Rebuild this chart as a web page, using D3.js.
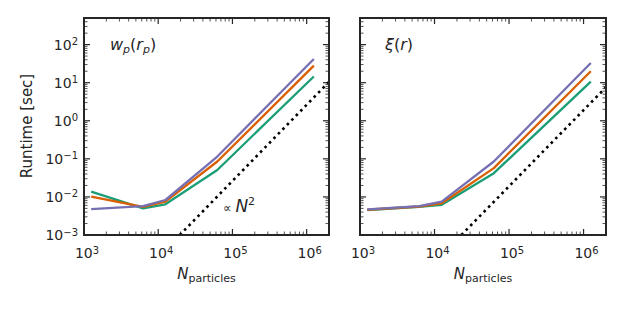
<!DOCTYPE html>
<html>
<head>
<meta charset="utf-8">
<script src="https://cdn.jsdelivr.net/npm/d3@7"></script>
<style>
  body { margin: 0; background: #fff; }
  svg { display: block; font-family: "DejaVu Sans", sans-serif; }
</style>
</head>
<body>
<div class="render"></div>
<script>
"use strict";

// number of particles (x) for every measured point
var nParticles = [1250, 6250, 12500, 62500, 1250000];

// w_p(r_p) runtimes [sec]
var wpGreen  = [0.0138, 0.0050, 0.0064, 0.051, 14.5];
var wpOrange = [0.0102, 0.0055, 0.0075, 0.085, 28];
var wpPurple = [0.0048, 0.0057, 0.0083, 0.115, 42];

// xi(r) runtimes [sec]
var xiGreen  = [0.0045, 0.0055, 0.0062, 0.042, 10.7];
var xiOrange = [0.0046, 0.0056, 0.0068, 0.057, 20];
var xiPurple = [0.0047, 0.0057, 0.0075, 0.085, 33];

// the dotted "proportional to N^2" guide, two end points each
var guideWp = [[19500, 0.001], [2000000, 10.5]];
var guideXi = [[22900, 0.001], [2000000, 7.6]];

var xTickLabels = [3, 4, 5, 6];
var yTickLabels = [-3, -2, -1, 0, 1, 2];

var colors = ["#1b9e77", "#d95f02", "#7570b3"];
var ink = "#262626";

var w = 623, h = 312;
var plotTop = 18, plotBottom = 235;
var panels = [
  { left: 84, right: 329, series: [wpGreen, wpOrange, wpPurple], guide: guideWp, yLabels: true },
  { left: 360, right: 606, series: [xiGreen, xiOrange, xiPurple], guide: guideXi, yLabels: false }
];

var svg = d3.select(".render").append("svg").attr("width", w).attr("height", h);

function minorTicks(lo, hi) {
  var out = [];
  for (var e = Math.floor(Math.log10(lo)); e <= Math.ceil(Math.log10(hi)); e++) {
    for (var k = 2; k <= 9; k++) {
      var v = k * Math.pow(10, e);
      if (v > lo && v < hi) out.push(v);
    }
  }
  return out;
}

function powerLabel(sel, exp) {
  sel.text("10");
  sel.append("tspan").attr("dy", "-0.45em").style("font-size", "10px")
    .text(exp < 0 ? "\u2212" + (-exp) : exp);
}

panels.forEach(function (p) {
  var x = d3.scaleLog().domain([1e3, 2e6]).range([p.left, p.right]);
  var y = d3.scaleLog().domain([1e-3, 500]).range([plotBottom, plotTop]);
  var g = svg.append("g");

  var xMajor = xTickLabels.map(function (e) { return Math.pow(10, e); });
  var yMajor = yTickLabels.map(function (e) { return Math.pow(10, e); });

  // inward ticks on all four sides
  [[plotTop, 1], [plotBottom, -1]].forEach(function (s) {
    g.selectAll(null).data(xMajor).enter().append("line")
      .attr("x1", function (d) { return x(d); }).attr("x2", function (d) { return x(d); })
      .attr("y1", s[0]).attr("y2", s[0] + s[1] * 6).attr("stroke", ink).attr("stroke-width", 1.2);
    g.selectAll(null).data(minorTicks(1e3, 2e6)).enter().append("line")
      .attr("x1", function (d) { return x(d); }).attr("x2", function (d) { return x(d); })
      .attr("y1", s[0]).attr("y2", s[0] + s[1] * 3.5).attr("stroke", ink).attr("stroke-width", 0.8);
  });
  [[p.left, 1], [p.right, -1]].forEach(function (s) {
    g.selectAll(null).data(yMajor).enter().append("line")
      .attr("y1", function (d) { return y(d); }).attr("y2", function (d) { return y(d); })
      .attr("x1", s[0]).attr("x2", s[0] + s[1] * 6).attr("stroke", ink).attr("stroke-width", 1.2);
    g.selectAll(null).data(minorTicks(1e-3, 500)).enter().append("line")
      .attr("y1", function (d) { return y(d); }).attr("y2", function (d) { return y(d); })
      .attr("x1", s[0]).attr("x2", s[0] + s[1] * 3.5).attr("stroke", ink).attr("stroke-width", 0.8);
  });

  // x tick labels
  g.selectAll(null).data(xTickLabels).enter().append("text")
    .attr("x", function (d) { return x(Math.pow(10, d)) + 3; }).attr("y", 258)
    .attr("text-anchor", "middle").attr("fill", ink).style("font-size", "14px")
    .each(function (d) { powerLabel(d3.select(this), d); });

  if (p.yLabels) {
    g.selectAll(null).data(yTickLabels).enter().append("text")
      .attr("x", 78).attr("y", function (d) { return y(Math.pow(10, d)) + 5; })
      .attr("text-anchor", "end").attr("fill", ink).style("font-size", "14px")
      .each(function (d) { powerLabel(d3.select(this), d); });
  }

  var line = d3.line()
    .x(function (d) { return x(d[0]); })
    .y(function (d) { return y(d[1]); });

  g.append("path").datum(p.guide).attr("d", line).attr("fill", "none")
    .attr("stroke", "#000").attr("stroke-width", 2.6).attr("stroke-dasharray", "2.6,3.8");

  p.series.forEach(function (s, i) {
    g.append("path").datum(nParticles.map(function (n, j) { return [n, s[j]]; }))
      .attr("d", line).attr("fill", "none").attr("stroke", colors[i])
      .attr("stroke-width", 2.3).attr("stroke-linejoin", "round");
  });

  g.append("rect").attr("x", p.left).attr("y", plotTop)
    .attr("width", p.right - p.left).attr("height", plotBottom - plotTop)
    .attr("fill", "none").attr("stroke", ink).attr("stroke-width", 2);

  // x axis label
  var xl = g.append("text").attr("x", (p.left + p.right) / 2).attr("y", 279)
    .attr("text-anchor", "middle").attr("fill", ink);
  xl.append("tspan").style("font-style", "italic").style("font-size", "15px").text("N");
  xl.append("tspan").attr("dy", "3").style("font-size", "11px").text("particles");
});

svg.append("text").attr("transform", "translate(32,126)rotate(-90)")
  .attr("text-anchor", "middle").attr("fill", ink).style("font-size", "15px")
  .text("Runtime [sec]");

// panel titles
var t1 = svg.append("text").attr("x", 110).attr("y", 50).attr("fill", ink).style("font-size", "16px");
t1.append("tspan").style("font-style", "italic").text("w");
t1.append("tspan").attr("dy", "3").style("font-style", "italic").style("font-size", "11px").text("p");
t1.append("tspan").attr("dy", "-3").text("(");
t1.append("tspan").style("font-style", "italic").text("r");
t1.append("tspan").attr("dy", "3").style("font-style", "italic").style("font-size", "11px").text("p");
t1.append("tspan").attr("dy", "-3").text(")");

var t2 = svg.append("text").attr("x", 385).attr("y", 50).attr("fill", ink).style("font-size", "16px");
t2.append("tspan").style("font-style", "italic").text("\u03be");
t2.append("tspan").text("(");
t2.append("tspan").style("font-style", "italic").text("r");
t2.append("tspan").text(")");

var t3 = svg.append("text").attr("x", 223).attr("y", 212).attr("fill", ink);
t3.append("tspan").style("font-size", "12px").text("\u221d ");
t3.append("tspan").style("font-style", "italic").style("font-size", "17px").text("N");
t3.append("tspan").attr("dy", "-7").style("font-size", "11px").text("2");
</script>
</body>
</html>
